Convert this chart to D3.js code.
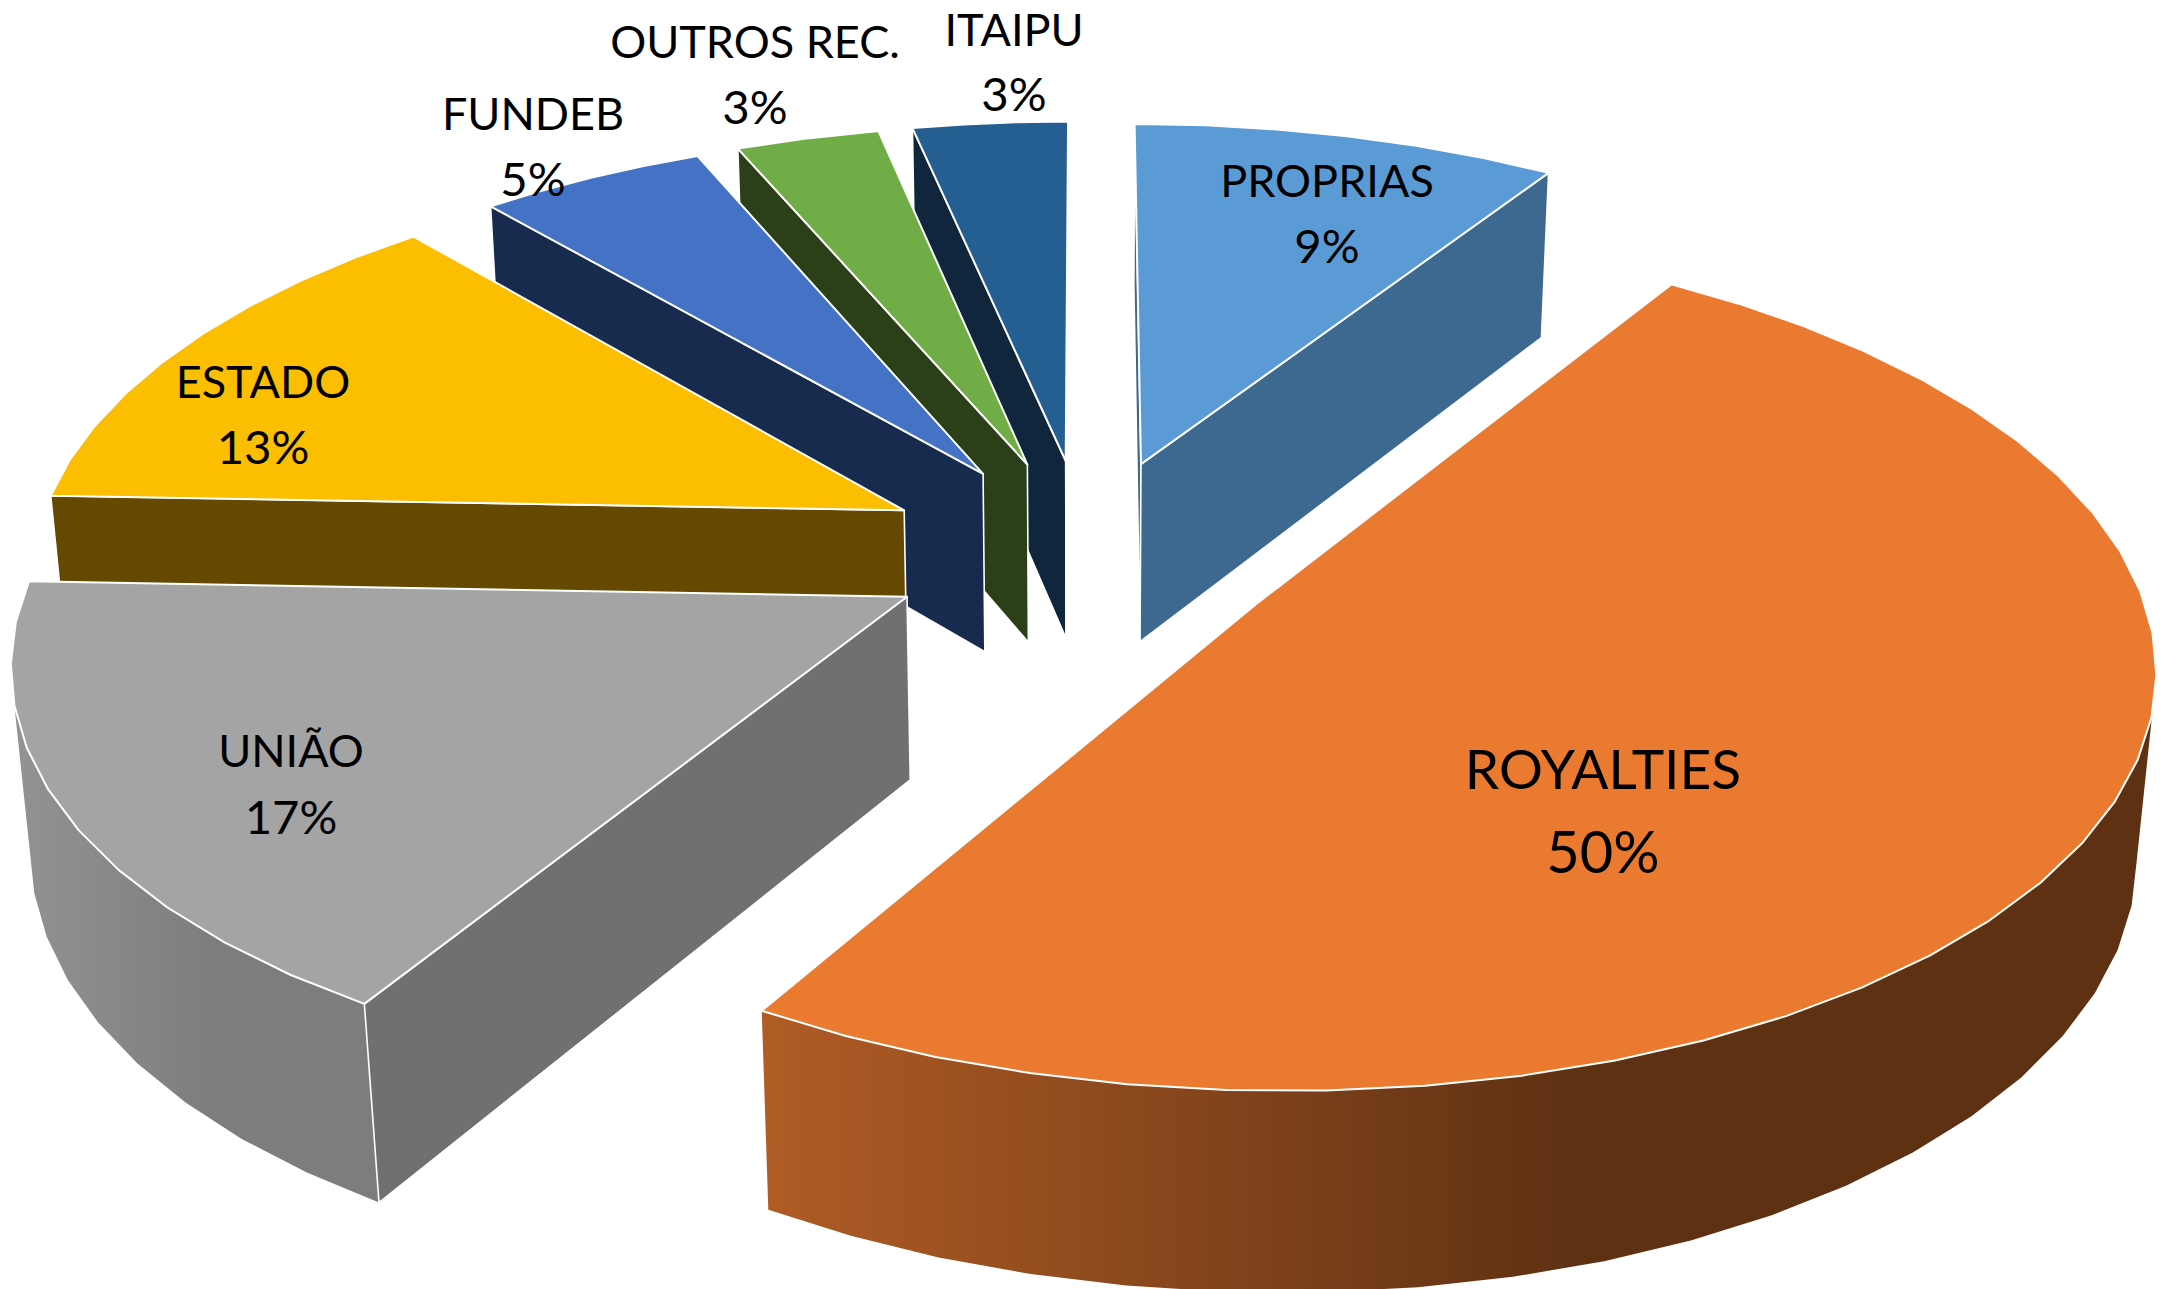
<!DOCTYPE html>
<html>
<head>
<meta charset="utf-8">
<script src="https://cdn.jsdelivr.net/npm/d3@7"></script>
<style>
  html, body { margin: 0; padding: 0; background: #fff; }
  svg { display: block; }
  text { font-family: Lato, "Open Sans", sans-serif; fill: #000; text-anchor: middle; }
</style>
</head>
<body>
<div id="chart"></div>
<script>
// DATA
const categories = ["PROPRIAS", "ROYALTIES", "UNIÃO", "ESTADO", "FUNDEB", "OUTROS REC.", "ITAIPU"];
// shares, labels show them rounded
const shares = [9.12, 49.55, 16.92, 13.14, 4.86, 3.08, 3.33];

// STYLE
const topColors = ["#5b9bd5", "#e97a2f", "#a4a4a4", "#fbbe00", "#4472c4", "#70ad47", "#255e91"];
const sideColors = ["#3d6990", "#5f3113", "#707070", "#654900", "#172b4f", "#2b4019", "#0f263d"];
const wallLeft = ["#4a7dab", "#b05c25", "#939393", "#8c6a00", "#20386a", "#3c5a25", "#123050"];
const wallRight = ["#3d6990", "#5f3113", "#7d7d7d", "#654900", "#172b4f", "#2b4019", "#0f263d"];
// how far each slice is pulled out, in pie radii
const explodes = [0.23, 0.23, 0.23, 0.235, 0.23, 0.23, 0.23];
// label centres in page pixels, one row per category: name x, name y, value y, font size
const labelSpots = [
  [1327, 181, 246, 45],
  [1603, 769, 852, 55],
  [291, 751, 817, 45],
  [263, 382, 447, 45],
  [533, 114, 179, 45],
  [755, 42, 107, 45],
  [1014, 30, 94, 45]
];

// 1. SETUP
const width = 2172;
const height = 1289;

// perspective of the pie, unit radius = 1 on the ground plan
const cx = 1086, cy = 551.5;
const scaleX = 871, scaleY = 408, depth = 184.5;
const persp = 0.135, perspDown = 0.018;
const step = Math.PI * 2 / 64;

const svg = d3.select("#chart")
  .append("svg")
  .attr("width", width)
  .attr("height", height)
  .attr("viewBox", [0, 0, width, height]);

const defs = svg.append("defs");
const line = d3.line();

function project(px, py, h) {
  const w = 1 - persp * py + perspDown * h;
  return [cx + scaleX * px / w, cy + (scaleY * py + depth * h) / w];
}

// signed area, > 0 means the face turns towards the viewer
function facing(poly) {
  return d3.polygonArea(poly) > 0;
}

const pie = d3.pie().value(d => d).sort(null)(shares);

function arcPoints(d, i) {
  const mid = (d.startAngle + d.endAngle) / 2;
  const ox = explodes[i] * Math.sin(mid), oy = -explodes[i] * Math.cos(mid);
  const n = Math.max(1, Math.ceil((d.endAngle - d.startAngle) / step));
  const angles = d3.range(n + 1).map(k => d.startAngle + (d.endAngle - d.startAngle) * k / n);
  return {
    apex: [ox, oy],
    rim: angles.map(a => [ox + Math.sin(a), oy - Math.cos(a)])
  };
}

const slices = pie.map((d, i) => arcPoints(d, i));

// 2. DRAW, back to front
const order = [0, 6, 5, 4, 3, 2, 1];

order.forEach(i => {
  const s = slices[i];
  const g = svg.append("g").attr("class", "slice");
  const top = s.rim.map(p => project(p[0], p[1], 0));
  const bot = s.rim.map(p => project(p[0], p[1], 1));
  const apexTop = project(s.apex[0], s.apex[1], 0);
  const apexBot = project(s.apex[0], s.apex[1], 1);

  // outer wall gradient runs left to right across the page
  const gradId = "wall" + i;
  const xMin = d3.min(top, p => p[0]), xMax = d3.max(top, p => p[0]);
  const grad = defs.append("linearGradient")
    .attr("id", gradId)
    .attr("gradientUnits", "userSpaceOnUse")
    .attr("x1", xMin)
    .attr("x2", xMin + (xMax - xMin) * 0.58)
    .attr("y1", 0)
    .attr("y2", 0);
  grad.append("stop").attr("offset", 0).attr("stop-color", wallLeft[i]);
  grad.append("stop").attr("offset", 1).attr("stop-color", wallRight[i]);

  // wall, only the strips that look at us
  const wallTop = [], wallBot = [];
  for (let k = 0; k < top.length - 1; k++) {
    const quad = [top[k], top[k + 1], bot[k + 1], bot[k]];
    if (facing(quad)) {
      if (!wallTop.length) wallTop.push(top[k]), wallBot.push(bot[k]);
      wallTop.push(top[k + 1]);
      wallBot.push(bot[k + 1]);
    }
  }
  if (wallTop.length) {
    g.append("path")
      .attr("d", line(wallTop.concat(wallBot.slice().reverse())) + "Z")
      .attr("fill", `url(#${gradId})`);
  }

  // the two cut faces
  const faces = [
    [apexTop, top[0], bot[0], apexBot],
    [top[top.length - 1], apexTop, apexBot, bot[bot.length - 1]]
  ];
  faces.forEach(f => {
    if (facing(f)) {
      g.append("path")
        .attr("d", line(f) + "Z")
        .attr("fill", sideColors[i])
        .attr("stroke", "#fff")
        .attr("stroke-width", 1.6)
        .attr("stroke-linejoin", "round");
    }
  });

  // top face
  g.append("path")
    .attr("d", line([apexTop].concat(top)) + "Z")
    .attr("fill", topColors[i])
    .attr("stroke", "#fff")
    .attr("stroke-width", 2)
    .attr("stroke-linejoin", "round");
});

// 3. LABELS
categories.forEach((name, i) => {
  const [x, y1, y2, size] = labelSpots[i];
  svg.append("text").attr("x", x).attr("y", y1).attr("dy", "0.36em").attr("font-size", size).text(name);
  svg.append("text").attr("x", x).attr("y", y2).attr("dy", "0.36em").attr("font-size", size * 1.05).text(Math.round(shares[i]) + "%");
});
</script>
</body>
</html>
